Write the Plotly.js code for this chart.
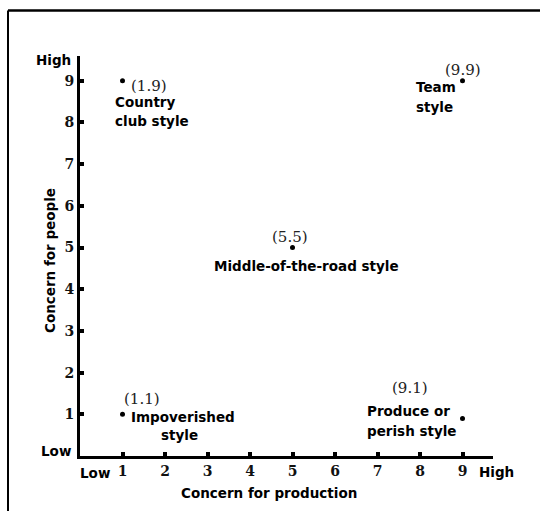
<!DOCTYPE html>
<html>
<head>
<meta charset="utf-8">
<script src="https://cdn.plot.ly/plotly-3.0.1.min.js"></script>
<style>html,body{margin:0;padding:0;background:#fff;}#chart{width:540px;height:511px;}</style>
</head>
<body>
<div id="chart"></div>
<script>
// Managerial grid styles
var styleNames = ["Country club style", "Team style", "Middle-of-the-road style", "Impoverished style", "Produce or perish style"];
var production = [1, 9, 5, 1, 9];
var people = [9, 9, 5, 1, 0.9];
var coordLabels = ["(1.9)", "(9.9)", "(5.5)", "(1.1)", "(9.1)"];
var tickValues = [1, 2, 3, 4, 5, 6, 7, 8, 9];
var tickLabels = ["1", "2", "3", "4", "5", "6", "7", "8", "9"];
var lowLabel = "Low";
var highLabel = "High";
var xTitle = "Concern for production";
var yTitle = "Concern for people";

var W = 540, H = 511;
var x0px = 80, xUnit = 42.5, y0px = 456, yUnit = 41.7;

var sans = {family: "DejaVu Sans", size: 13.5, color: "#000", weight: 700};
var serif = {family: "DejaVu Serif", size: 15, color: "#222"};

function ann(text, px, py, anchor, font, angle) {
  return {text: text, x: px / W, y: 1 - py / H, xref: "paper", yref: "paper", xanchor: anchor, yanchor: "middle",
          showarrow: false, font: font, textangle: angle || 0};
}

var annotations = [
  ann(coordLabels[0], 129, 86, "left", serif),
  ann("Country", 113, 102, "left", sans),
  ann("club style", 113, 121, "left", sans),
  ann(coordLabels[1], 443, 70, "left", serif),
  ann("Team", 414, 87, "left", sans),
  ann("style", 414, 107, "left", sans),
  ann(coordLabels[2], 289.5, 237, "center", serif),
  ann(styleNames[2], 306, 266, "center", sans),
  ann(coordLabels[3], 122, 399, "left", serif),
  ann("Impoverished", 129, 417, "left", sans),
  ann("style", 159, 435, "left", sans),
  ann(coordLabels[4], 390, 388, "left", serif),
  ann("Produce or", 365, 411, "left", sans),
  ann("perish style", 365, 431, "left", sans),
  ann(highLabel, 73, 60, "right", sans),
  ann(lowLabel, 73, 451, "right", sans),
  ann(lowLabel, 78, 473, "left", sans),
  ann(highLabel, 477, 472, "left", sans),
  ann(xTitle, 268.5, 493, "center", sans),
  ann(yTitle, 50, 261, "center", sans, -90)
];

var trace = {
  type: "scatter", mode: "markers",
  x: production, y: people, text: styleNames,
  marker: {color: "#000", size: 5},
  hoverinfo: "text", cliponaxis: false
};

var tickFont = {family: "DejaVu Serif", size: 14, color: "#111", weight: 700};

var layout = {
  width: W, height: H,
  margin: {l: 0, r: 0, t: 0, b: 0},
  paper_bgcolor: "#fff", plot_bgcolor: "#fff",
  showlegend: false,
  xaxis: {
    domain: [x0px / W, 493 / W],
    range: [0, (493 - x0px) / xUnit],
    showline: true, linecolor: "#000", linewidth: 3,
    showgrid: false, zeroline: false,
    ticks: "inside", ticklen: 4, tickwidth: 4, tickcolor: "#000",
    tickvals: tickValues, ticktext: tickLabels,
    tickfont: tickFont,
    fixedrange: true
  },
  yaxis: {
    domain: [(H - y0px) / H, (H - 56) / H],
    range: [0, (y0px - 56) / yUnit],
    showline: true, linecolor: "#000", linewidth: 3,
    showgrid: false, zeroline: false,
    ticks: "inside", ticklen: 4, tickwidth: 4, tickcolor: "#000",
    tickvals: tickValues, ticktext: tickLabels,
    tickfont: tickFont,
    fixedrange: true
  },
  annotations: annotations,
  shapes: [
    {type: "line", xref: "paper", yref: "paper", x0: 8 / W, x1: 1, y0: (H - 10.5) / H, y1: (H - 10.5) / H,
     line: {color: "#000", width: 2.5}},
    {type: "line", xref: "paper", yref: "paper", x0: 8 / W, x1: 8 / W, y0: 0, y1: (H - 10.5) / H,
     line: {color: "#000", width: 2}}
  ]
};

Plotly.newPlot("chart", [trace], layout, {displayModeBar: false, staticPlot: true});
</script>
</body>
</html>
